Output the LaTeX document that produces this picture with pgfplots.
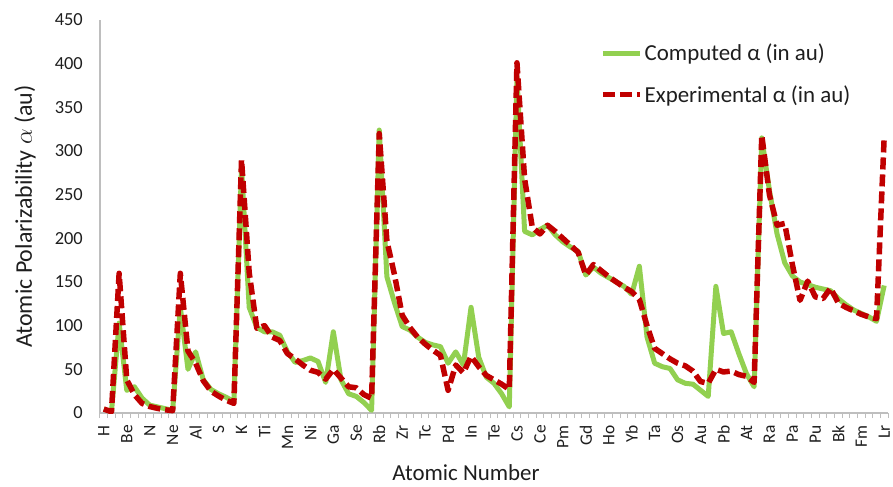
\documentclass[border=0pt]{standalone}
\usepackage{fontspec}
\setmainfont{Carlito}
\usepackage{pgfplots}
\pgfplotsset{compat=1.18}
\usepackage{pgfplotstable}
\definecolor{cgreen}{RGB}{146,208,80}
\definecolor{cred}{RGB}{192,0,0}
\definecolor{axgray}{RGB}{190,190,190}
\definecolor{txt}{RGB}{30,30,30}

\pgfplotstableread{
Z comp exp
1 4.5 4.5
2 1.4 1.4
3 103 160
4 26 38
5 30 21
6 17 11
7 9 7.4
8 7 5.3
9 5 3.7
10 3 2.7
11 121 160
12 50 71
13 70 57
14 38 37
15 27 25
16 22 19.4
17 18 14.6
18 13 11
19 282 290
20 121 161
21 98 97
22 93 100
23 93 87
24 89 83
25 70 68
26 58 62
27 60 55
28 63 49
29 59 46.5
30 35 38.7
31 93 50
32 38 40
33 22 30
34 19 28.9
35 12 21
36 3 16.8
37 324 320
38 156 197
39 126 158
40 99 112
41 95 98
42 87 87
43 81 79
44 78 72
45 76 66
46 57 26
47 70 55
48 55 46
49 121 65
50 64 53
51 41 43
52 34 38
53 22 33
54 7 27
55 385 401
56 208 268
57 204 213
58 210 205
59 215 215
60 204 208
61 196 200
62 190 192
63 185 184
64 158 158
65 167 170
66 160 163
67 155 156
68 150 150
69 145 144
70 136 139
71 168 130
72 87 100
73 57 74
74 53 68
75 51 62
76 38 57
77 34 54
78 33 48
79 26 36
80 19 34
81 145 50
82 91 47
83 93 48
84 68 44
85 45 42
86 30 35
87 315 318
88 255 250
89 205 215
90 172 217
91 157 170
92 150 129
93 147 151
94 144 133
95 142 131
96 140 143
97 131 126
98 124 121
99 118 117
100 114 113
101 110 110
102 105 108
103 146 316
}\datatable

\begin{document}
\begin{tikzpicture}
\begin{axis}[
  name=ax,
  scale only axis,
  width=788bp, height=393bp,
  xmin=0.5, xmax=103.5, ymin=0, ymax=450,
  axis x line*=bottom, axis y line*=left,
  axis line style={draw=axgray, line width=1.2bp, -},
  xtick={1,4,...,103},
  xticklabels={H,Be,N,Ne,Al,S,K,Ti,Mn,Ni,Ga,Se,Rb,Zr,Tc,Pd,In,Te,Cs,Ce,Pm,Gd,Ho,Yb,Ta,Os,Au,Pb,At,Ra,Pa,Pu,Bk,Fm,Lr},
  minor xtick={0.5,1.5,...,103.5},
  ytick={0,50,...,450},
  major tick length=0pt, minor tick length=5bp,
  tick align=outside,
  minor tick style={draw=axgray, line width=1bp},
  /pgf/number format/assume math mode=true,
  xticklabel style={rotate=90, anchor=east, inner sep=0pt, font=\fontsize{17.5}{19}\selectfont, text=txt},
  xticklabel shift=12bp,
  yticklabel style={anchor=east, inner sep=0pt, font=\fontsize{18.5}{20}\selectfont, text=txt},
  yticklabel shift=17bp,
  xlabel={Atomic Number},
  xlabel style={at={(axis description cs:0.4645,-0.152)}, anchor=center, font=\fontsize{23}{26}\selectfont, text=txt},
  ylabel={Atomic Polarizability $\alpha$ (au)},
  ylabel style={at={(axis description cs:-0.0952,0.5)}, anchor=center, font=\fontsize{24}{26}\selectfont, text=txt},
  legend style={at={(axis description cs:0.6345,0.944)}, anchor=north west, draw=none, fill=none,
    font=\fontsize{23}{25}\selectfont, text=txt, row sep=19bp, inner sep=0pt},
  legend cell align=left,
  legend image code/.code={\draw[#1] (0bp,0bp) -- (37bp,0bp);},
]
\addplot[cgreen, line width=5bp, line join=round] table[x=Z, y=comp] {\datatable};
\addlegendentry{Computed α (in au)}
\addplot[cred, line width=5.5bp, line join=round, dash pattern=on 12bp off 5bp] table[x=Z, y=exp] {\datatable};
\addlegendentry{Experimental α (in au)}
\end{axis}
\pgfresetboundingbox
\path[use as bounding box] ([shift={(-100bp,-74bp)}]ax.south west) rectangle ([shift={(5bp,20bp)}]ax.north east);
\end{tikzpicture}
\end{document}
